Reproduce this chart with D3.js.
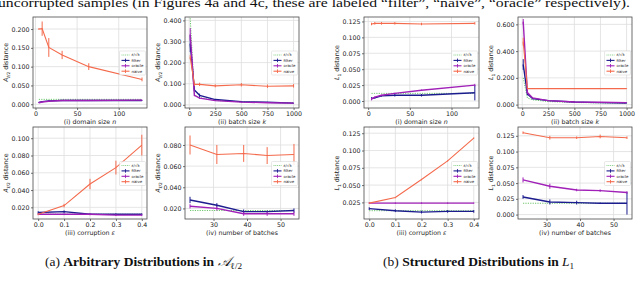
<!DOCTYPE html>
<html>
<head>
<meta charset="utf-8">
<script src="https://cdn.jsdelivr.net/npm/d3@7"></script>
<style>
body { margin: 0; background: #fff; }
svg { display: block; }
</style>
</head>
<body>
<svg width="640" height="282"></svg>
<script>
// x values
const domainSizes = [4, 8, 16, 32, 64, 128];
const batchSizes = [10, 50, 100, 250, 500, 750, 1000];
const corruptions = [0, 0.1, 0.2, 0.3, 0.4];
const numBatches = [23, 31, 39, 46, 54];

// (a)(i) A distance vs domain size
const aDomainBound = [0.013, 0.013, 0.013, 0.013, 0.013, 0.013];
const aDomainFilter = [0.005, 0.007, 0.009, 0.010, 0.010, 0.010];
const aDomainFilterErr = [0.001, 0.001, 0.001, 0.001, 0.001, 0.001];
const aDomainOracle = [0.004, 0.006, 0.008, 0.010, 0.010, 0.011];
const aDomainOracleErr = [0.001, 0.001, 0.001, 0.001, 0.001, 0.001];
const aDomainNaive = [0.200, 0.201, 0.151, 0.131, 0.100, 0.066];
const aDomainNaiveErr = [0.002, 0.019, 0.025, 0.011, 0.009, 0.005];

// (a)(ii) A distance vs batch size
const aBatchBound = [0.410, 0.047, 0.034, 0.021, 0.014, 0.011, 0.009];
const aBatchFilter = [0.290, 0.070, 0.045, 0.025, 0.015, 0.012, 0.008];
const aBatchFilterErr = [0.040, 0.006, 0.008, 0.003, 0.002, 0.002, 0.001];
const aBatchOracle = [0.333, 0.045, 0.032, 0.020, 0.013, 0.010, 0.008];
const aBatchOracleErr = [0.030, 0.004, 0.004, 0.002, 0.002, 0.001, 0.001];
const aBatchNaive = [0.225, 0.097, 0.097, 0.090, 0.095, 0.088, 0.090];
const aBatchNaiveErr = [0.010, 0.008, 0.008, 0.007, 0.008, 0.008, 0.008];

// (b)(i) L1 distance vs domain size
const lDomainBound = [0.012, 0.012, 0.012, 0.012, 0.012, 0.012];
const lDomainFilter = [0.004, 0.005, 0.008, 0.009, 0.009, 0.013];
const lDomainFilterErr = [0.002, 0.001, 0.001, 0.002, 0.002, 0.012];
const lDomainOracle = [0.003, 0.006, 0.009, 0.012, 0.017, 0.025];
const lDomainOracleErr = [0.002, 0.001, 0.001, 0.001, 0.001, 0.002];
const lDomainNaive = [0.121, 0.122, 0.122, 0.122, 0.121, 0.122];
const lDomainNaiveErr = [0.002, 0.002, 0.002, 0.002, 0.002, 0.002];

// (b)(ii) L1 distance vs batch size
const lBatchBound = [0.200, 0.050, 0.036, 0.023, 0.016, 0.013, 0.011];
const lBatchFilter = [0.300, 0.080, 0.045, 0.030, 0.020, 0.015, 0.012];
const lBatchFilterErr = [0.040, 0.010, 0.005, 0.003, 0.002, 0.002, 0.002];
const lBatchOracle = [0.620, 0.090, 0.050, 0.030, 0.020, 0.018, 0.015];
const lBatchOracleErr = [0.020, 0.008, 0.004, 0.002, 0.002, 0.002, 0.002];
const lBatchNaive = [0.470, 0.120, 0.120, 0.120, 0.120, 0.120, 0.120];
const lBatchNaiveErr = [0.030, 0.004, 0.003, 0.003, 0.003, 0.003, 0.003];

// (a)(iii) A distance vs corruption
const aCorrBound = [0.012, 0.012, 0.012, 0.012, 0.012];
const aCorrFilter = [0.014, 0.015, 0.012, 0.012, 0.012];
const aCorrFilterErr = [0.0015, 0.0015, 0.001, 0.001, 0.001];
const aCorrOracle = [0.012, 0.012, 0.012, 0.011, 0.011];
const aCorrOracleErr = [0.001, 0.001, 0.001, 0.001, 0.001];
const aCorrNaive = [0.012, 0.022, 0.047, 0.066, 0.092];
const aCorrNaiveErr = [0.001, 0.002, 0.006, 0.008, 0.012];

// (a)(iv) A distance vs number of batches
const aNumBound = [0.018, 0.018, 0.018, 0.018, 0.018];
const aNumFilter = [0.028, 0.023, 0.017, 0.017, 0.018];
const aNumFilterErr = [0.003, 0.002, 0.002, 0.001, 0.002];
const aNumOracle = [0.022, 0.020, 0.015, 0.015, 0.015];
const aNumOracleErr = [0.002, 0.002, 0.002, 0.002, 0.002];
const aNumNaive = [0.080, 0.071, 0.072, 0.070, 0.071];
const aNumNaiveErr = [0.009, 0.009, 0.008, 0.008, 0.010];

// (b)(iii) L1 distance vs corruption
const lCorrBound = [0.013, 0.013, 0.013, 0.013, 0.013];
const lCorrFilter = [0.016, 0.013, 0.011, 0.012, 0.012];
const lCorrFilterErr = [0.002, 0.002, 0.002, 0.002, 0.002];
const lCorrOracle = [0.024, 0.024, 0.024, 0.024, 0.024];
const lCorrOracleErr = [0.001, 0.001, 0.001, 0.001, 0.001];
const lCorrNaive = [0.024, 0.032, 0.058, 0.085, 0.118];
const lCorrNaiveErr = [0.001, 0.001, 0.001, 0.001, 0.001];

// (b)(iv) L1 distance vs number of batches
const lNumBound = [0.018, 0.018, 0.018, 0.018, 0.018];
const lNumFilter = [0.028, 0.020, 0.019, 0.018, 0.018];
const lNumFilterErr = [0.003, 0.004, 0.003, 0.001, 0.018];
const lNumOracle = [0.055, 0.045, 0.039, 0.038, 0.035];
const lNumOracleErr = [0.004, 0.004, 0.002, 0.002, 0.002];
const lNumNaive = [0.130, 0.122, 0.122, 0.124, 0.122];
const lNumNaiveErr = [0.002, 0.003, 0.002, 0.003, 0.002];

const legendLabels = ["ε/√k", "filter", "oracle", "naive"];

// styles
const boundColor = "#6cc56c";
const filterColor = "#1c1c8f";
const oracleColor = "#a020b8";
const naiveColor = "#f46a4c";
const gridColor = "#dedede";
const frameColor = "#4a4a4a";
const sansFont = "DejaVu Sans, sans-serif";
const serifFont = "Liberation Serif, Times New Roman, serif";

const svg = d3.select("svg");

const cols = [[33, 147], [185, 299], [364, 479], [518, 632]];
const rows = [[17, 108], [127, 219]];

const fmt3 = d3.format(".3f");
const fmt1 = d3.format(".1f");
const fmt0 = d3.format("d");

function makeSeries(bound, filter, filterErr, oracle, oracleErr, naive, naiveErr) {
    return [
        { name: "bound", color: boundColor, ys: bound, dash: "1.2,1.2", width: 1 },
        { name: "filter", color: filterColor, ys: filter, errs: filterErr, width: 1.4 },
        { name: "oracle", color: oracleColor, ys: oracle, errs: oracleErr, width: 1.4 },
        { name: "naive", color: naiveColor, ys: naive, errs: naiveErr, width: 1.1 }
    ];
}

const panels = [
    { col: 0, row: 0, xs: domainSizes, xDomain: [-3, 134], yDomain: [-0.010, 0.232],
      xTicks: [0, 50, 100], yTicks: [0, 0.05, 0.1, 0.15, 0.2], xFmt: fmt0, yFmt: fmt3,
      xLabel: ["(i) domain size ", "n"], yKind: "A",
      series: makeSeries(aDomainBound, aDomainFilter, aDomainFilterErr, aDomainOracle, aDomainOracleErr, aDomainNaive, aDomainNaiveErr) },
    { col: 1, row: 0, xs: batchSizes, xDomain: [-40, 1052], yDomain: [-0.015, 0.416],
      xTicks: [0, 250, 500, 750, 1000], yTicks: [0, 0.1, 0.2, 0.3, 0.4], xFmt: fmt0, yFmt: fmt3,
      xLabel: ["(ii) batch size ", "k"], yKind: "A",
      series: makeSeries(aBatchBound, aBatchFilter, aBatchFilterErr, aBatchOracle, aBatchOracleErr, aBatchNaive, aBatchNaiveErr) },
    { col: 2, row: 0, xs: domainSizes, xDomain: [-5, 133], yDomain: [-0.011, 0.132],
      xTicks: [0, 50, 100], yTicks: [0, 0.025, 0.05, 0.075, 0.1, 0.125], xFmt: fmt0, yFmt: fmt3,
      xLabel: ["(i) domain size ", "n"], yKind: "L",
      series: makeSeries(lDomainBound, lDomainFilter, lDomainFilterErr, lDomainOracle, lDomainOracleErr, lDomainNaive, lDomainNaiveErr) },
    { col: 3, row: 0, xs: batchSizes, xDomain: [-40, 1052], yDomain: [-0.025, 0.655],
      xTicks: [0, 250, 500, 750, 1000], yTicks: [0, 0.2, 0.4, 0.6], xFmt: fmt0, yFmt: fmt3,
      xLabel: ["(ii) batch size ", "k"], yKind: "L",
      series: makeSeries(lBatchBound, lBatchFilter, lBatchFilterErr, lBatchOracle, lBatchOracleErr, lBatchNaive, lBatchNaiveErr) },
    { col: 0, row: 1, xs: corruptions, xDomain: [-0.02, 0.42], yDomain: [0.0065, 0.113],
      xTicks: [0, 0.1, 0.2, 0.3, 0.4], yTicks: [0.02, 0.04, 0.06, 0.08, 0.1], xFmt: fmt1, yFmt: fmt3,
      xLabel: ["(iii) corruption ", "ε"], yKind: "A",
      series: makeSeries(aCorrBound, aCorrFilter, aCorrFilterErr, aCorrOracle, aCorrOracleErr, aCorrNaive, aCorrNaiveErr) },
    { col: 1, row: 1, xs: numBatches, xDomain: [21.5, 55.5], yDomain: [0.010, 0.097],
      xTicks: [30, 40, 50], yTicks: [0.02, 0.04, 0.06, 0.08], xFmt: fmt0, yFmt: fmt3,
      xLabel: ["(iv) number of batches", ""], yKind: "A",
      series: makeSeries(aNumBound, aNumFilter, aNumFilterErr, aNumOracle, aNumOracleErr, aNumNaive, aNumNaiveErr) },
    { col: 2, row: 1, xs: corruptions, xDomain: [-0.02, 0.42], yDomain: [0.001, 0.134],
      xTicks: [0, 0.1, 0.2, 0.3, 0.4], yTicks: [0.025, 0.05, 0.075, 0.1, 0.125], xFmt: fmt1, yFmt: fmt3,
      xLabel: ["(iii) corruption ", "ε"], yKind: "L",
      series: makeSeries(lCorrBound, lCorrFilter, lCorrFilterErr, lCorrOracle, lCorrOracleErr, lCorrNaive, lCorrNaiveErr) },
    { col: 3, row: 1, xs: numBatches, xDomain: [21.5, 55.5], yDomain: [-0.007, 0.139],
      xTicks: [30, 40, 50], yTicks: [0, 0.025, 0.05, 0.075, 0.1, 0.125], xFmt: fmt0, yFmt: fmt3,
      xLabel: ["(iv) number of batches", ""], yKind: "L",
      series: makeSeries(lNumBound, lNumFilter, lNumFilterErr, lNumOracle, lNumOracleErr, lNumNaive, lNumNaiveErr) }
];

function drawPanel(p) {
    const left = cols[p.col][0], right = cols[p.col][1];
    const top = rows[p.row][0], bottom = rows[p.row][1];
    const x = d3.scaleLinear().domain(p.xDomain).range([left, right]);
    const y = d3.scaleLinear().domain(p.yDomain).range([bottom, top]);
    const g = svg.append("g");

    // grid
    g.append("g").selectAll("line").data(p.xTicks).join("line")
        .attr("x1", d => x(d)).attr("x2", d => x(d))
        .attr("y1", top).attr("y2", bottom)
        .attr("stroke", gridColor).attr("stroke-width", 0.8);
    g.append("g").selectAll("line").data(p.yTicks).join("line")
        .attr("y1", d => y(d)).attr("y2", d => y(d))
        .attr("x1", left).attr("x2", right)
        .attr("stroke", gridColor).attr("stroke-width", 0.8);

    // axes
    const xAxis = g.append("g").attr("transform", `translate(0,${bottom})`)
        .call(d3.axisBottom(x).tickValues(p.xTicks).tickFormat(p.xFmt).tickSize(2).tickPadding(1.5));
    const yAxis = g.append("g").attr("transform", `translate(${left},0)`)
        .call(d3.axisLeft(y).tickValues(p.yTicks).tickFormat(p.yFmt).tickSize(2).tickPadding(1.5));
    [xAxis, yAxis].forEach(a => {
        a.select(".domain").remove();
        a.selectAll("line").attr("stroke", "#333").attr("stroke-width", 0.7);
        a.selectAll("text").attr("font-family", sansFont).attr("font-size", 6.3).attr("fill", "#222");
    });

    // series
    p.series.forEach(s => {
        const pts = p.xs.map((xv, i) => ({ x: xv, y: s.ys[i], e: s.errs ? s.errs[i] : 0 }));
        const line = d3.line().x(d => x(d.x)).y(d => y(d.y));
        g.append("path").datum(pts)
            .attr("d", line)
            .attr("fill", "none")
            .attr("stroke", s.color)
            .attr("stroke-width", s.width)
            .attr("stroke-dasharray", s.dash || null);
        if (s.errs) {
            g.append("g").selectAll("line").data(pts).join("line")
                .attr("x1", d => x(d.x)).attr("x2", d => x(d.x))
                .attr("y1", d => y(d.y - d.e)).attr("y2", d => y(d.y + d.e))
                .attr("stroke", s.color).attr("stroke-width", 1);
        }
    });

    // frame
    g.append("rect")
        .attr("x", left).attr("y", top)
        .attr("width", right - left).attr("height", bottom - top)
        .attr("fill", "none").attr("stroke", frameColor).attr("stroke-width", 0.8);

    // legend
    const lw = 26, lh = 24;
    const lx = right - lw - 1.5;
    const ly = (top + bottom) / 2 - lh / 2 + 0.5;
    const leg = g.append("g").attr("transform", `translate(${lx},${ly})`);
    leg.append("rect").attr("width", lw).attr("height", lh).attr("rx", 1)
        .attr("fill", "#fff").attr("fill-opacity", 0.85)
        .attr("stroke", "#d0d0d0").attr("stroke-width", 0.5);
    const items = leg.selectAll("g").data(p.series).join("g")
        .attr("transform", (d, i) => `translate(2,${4 + i * 5.4})`);
    items.append("line").attr("x1", 0).attr("x2", 8).attr("y1", 0).attr("y2", 0)
        .attr("stroke", d => d.color).attr("stroke-width", d => d.dash ? 0.8 : 1.1)
        .attr("stroke-dasharray", d => d.dash ? "1,0.8" : null);
    items.filter(d => d.errs).append("line").attr("x1", 4).attr("x2", 4).attr("y1", -1.8).attr("y2", 1.8)
        .attr("stroke", d => d.color).attr("stroke-width", 0.9);
    items.append("text").attr("x", 10).attr("y", 1.4)
        .attr("font-family", sansFont).attr("font-size", 3.9).attr("fill", "#222")
        .text((d, i) => legendLabels[i]);

    // x label
    const xl = g.append("text")
        .attr("x", (left + right) / 2).attr("y", bottom + 15.5)
        .attr("text-anchor", "middle")
        .attr("font-family", sansFont).attr("font-size", 6.3).attr("fill", "#222");
    xl.append("tspan").text(p.xLabel[0]);
    if (p.xLabel[1]) xl.append("tspan").attr("font-style", "italic").text(p.xLabel[1]);

    // y label
    const yl = g.append("text")
        .attr("transform", `translate(${left - 25},${(top + bottom) / 2}) rotate(-90)`)
        .attr("text-anchor", "middle")
        .attr("font-family", sansFont).attr("font-size", 6.3).attr("fill", "#222");
    yl.append("tspan").attr("font-style", "italic").text(p.yKind);
    yl.append("tspan").attr("font-size", 4.4).attr("dy", 1.5).text(p.yKind === "A" ? "ℓ/2" : "1");
    yl.append("tspan").attr("dy", -1.5).text(" distance");
}

panels.forEach(drawPanel);

// cut-off text line from the page above
svg.append("text")
    .attr("x", -2).attr("y", 7.3)
    .attr("font-family", serifFont).attr("font-size", 13).attr("fill", "#111")
    .attr("textLength", 632).attr("lengthAdjust", "spacingAndGlyphs")
    .text("uncorrupted samples (in Figures 4a and 4c, these are labeled “filter”, “naive”, “oracle” respectively).");

// captions
function caption(xPos, tag, bold, mathMain, mathSub) {
    const t = svg.append("text")
        .attr("x", xPos).attr("y", 266)
        .attr("font-family", serifFont).attr("font-size", 13.5).attr("fill", "#111");
    t.append("tspan").text(tag + " ");
    t.append("tspan").attr("font-weight", "bold").text(bold + " ");
    t.append("tspan").attr("font-style", "italic").text(mathMain);
    t.append("tspan").attr("font-size", 9.2).attr("dy", 3).text(mathSub);
}
caption(45, "(a)", "Arbitrary Distributions in", "𝒜", "ℓ/2");
caption(383, "(b)", "Structured Distributions in", "L", "1");
</script>
</body>
</html>
